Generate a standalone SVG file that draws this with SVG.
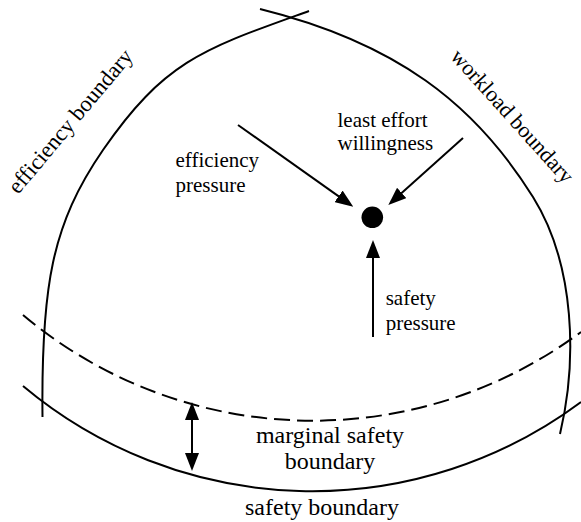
<svg xmlns="http://www.w3.org/2000/svg" width="581" height="522" viewBox="0 0 581 522">
  <style>
    .arc { fill: none; stroke: #000; stroke-width: 2; }
    .dash { stroke-dasharray: 16 7; }
    .arr { fill: none; stroke: #000; stroke-width: 2; marker-end: url(#head); }
    text { font-family: "Liberation Serif", "DejaVu Serif", "Times New Roman", serif; fill: #000; }
  </style>
  <defs>
    <marker id="head" viewBox="0 0 18 14" refX="14" refY="7" markerWidth="18" markerHeight="14" markerUnits="userSpaceOnUse" orient="auto-start-reverse">
      <path d="M0,0 L18,7 L0,14 z" fill="#000"/>
    </marker>
  </defs>
  <rect width="581" height="522" fill="#fff"/>

  <g id="efficiency-boundary">
    <path class="arc" d="M309,11 C205.5,48.2 165.5,59.5 103,150 C51.9,224 41,287 42.5,417"/>
    <text font-family="Liberation Serif, DejaVu Serif, serif" font-size="22.5" text-anchor="middle" transform="translate(76,126) rotate(-50)">efficiency boundary</text>
  </g>

  <g id="workload-boundary">
    <path class="arc" d="M260,9 C395.8,42.6 474.7,103.5 533,197 C575.4,265 577.25,361.25 560,434"/>
    <text font-family="Liberation Serif, DejaVu Serif, serif" font-size="22" text-anchor="middle" transform="translate(507,121) rotate(48)">workload boundary</text>
  </g>

  <g id="marginal-safety-boundary">
    <path class="arc dash" d="M23,315 A450,450 0 0 0 581,332"/>
    <text font-family="Liberation Serif, DejaVu Serif, serif" font-size="24" text-anchor="middle" x="330" y="443">marginal safety</text>
    <text font-family="Liberation Serif, DejaVu Serif, serif" font-size="24" text-anchor="middle" x="330" y="469">boundary</text>
  </g>

  <g id="safety-boundary">
    <path class="arc" d="M23,386 A450,450 0 0 0 581,402"/>
    <text font-family="Liberation Serif, DejaVu Serif, serif" font-size="24" text-anchor="middle" x="322" y="515">safety boundary</text>
  </g>

  <g id="operating-point">
    <circle cx="372.3" cy="217.3" r="10.8" fill="#000"/>
  </g>

  <g id="efficiency-pressure">
    <text font-family="Liberation Serif, DejaVu Serif, serif" font-size="21" x="175.5" y="166.7">efficiency</text>
    <text font-family="Liberation Serif, DejaVu Serif, serif" font-size="21" x="175.5" y="191.7">pressure</text>
  </g>

  <g id="least-effort">
    <text font-family="Liberation Serif, DejaVu Serif, serif" font-size="21" x="337.5" y="126.7">least effort</text>
    <text font-family="Liberation Serif, DejaVu Serif, serif" font-size="21" x="337.5" y="150">willingness</text>
  </g>

  <g id="safety-pressure">
    <text font-family="Liberation Serif, DejaVu Serif, serif" font-size="21" x="385.7" y="305">safety</text>
    <text font-family="Liberation Serif, DejaVu Serif, serif" font-size="21" x="385.7" y="330">pressure</text>
  </g>

  <g id="connectors">
    <line class="arr" x1="238" y1="125" x2="350" y2="204.4"/>
    <line class="arr" x1="463" y1="138" x2="391.3" y2="202.3"/>
    <line class="arr" x1="373" y1="337" x2="373" y2="244"/>
    <line class="arr" x1="192" y1="406" x2="192" y2="467" marker-start="url(#head)"/>
  </g>
</svg>
